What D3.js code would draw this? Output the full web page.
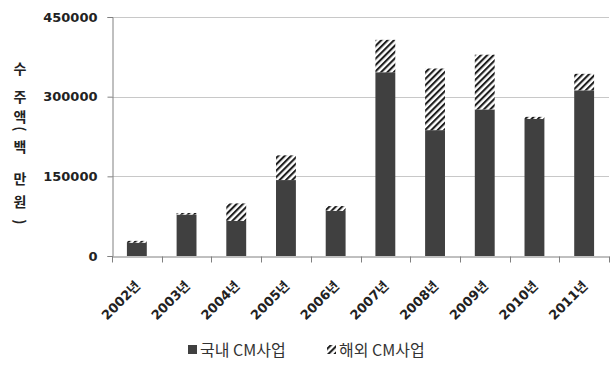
<!DOCTYPE html>
<html>
<head>
<meta charset="utf-8">
<script src="https://cdn.jsdelivr.net/npm/d3@7"></script>
<style>
  html, body { margin: 0; padding: 0; background: #fff; }
  svg { display: block; }
</style>
</head>
<body>
<svg id="chart" width="616" height="368"></svg>
<script>
const categories = ["2002년","2003년","2004년","2005년","2006년","2007년","2008년","2009년","2010년","2011년"];
const domestic = [25000, 78000, 66000, 143000, 85000, 346000, 237000, 276000, 258000, 312000];
const overseas = [3500, 3000, 33000, 46500, 9000, 61000, 116000, 103000, 4000, 31000];
const yTicks = [0, 150000, 300000, 450000];
const seriesNames = ["국내 CM사업", "해외 CM사업"];
const yTitleChars = ["수","주","액","(","백","만","원",")"];

const svg = d3.select("#chart");
const numFont = "'DejaVu Sans', 'Noto Sans CJK KR', sans-serif";
const krFont = "'Noto Sans CJK KR', 'Noto Sans', sans-serif";

const defs = svg.append("defs");
const pat = defs.append("pattern")
  .attr("id", "hatch")
  .attr("patternUnits", "userSpaceOnUse")
  .attr("width", 4.5).attr("height", 4.5)
  .attr("patternTransform", "rotate(45)");
pat.append("rect").attr("width", 4.5).attr("height", 4.5).attr("fill", "#fff");
pat.append("line").attr("x1", 1).attr("y1", 0).attr("x2", 1).attr("y2", 4.5)
  .attr("stroke", "#1e1e1e").attr("stroke-width", 2.2);

const x = d3.scaleBand().domain(categories).range([112, 609]).paddingInner(0.6).paddingOuter(0.3);
const y = d3.scaleLinear().domain([0, 450000]).range([256, 17]);

// gridlines
svg.append("g").selectAll("line").data(yTicks.filter(d => d > 0)).join("line")
  .attr("x1", 112).attr("x2", 609)
  .attr("y1", d => Math.round(y(d)) + 0.5).attr("y2", d => Math.round(y(d)) + 0.5)
  .attr("stroke", "#c8c8c8").attr("stroke-width", 1);

// bars
const stacked = categories.map((c, i) => ({ c, d: domestic[i], o: overseas[i] }));
svg.append("g").selectAll("rect").data(stacked).join("rect")
  .attr("x", d => x(d.c)).attr("width", x.bandwidth())
  .attr("y", d => y(d.d)).attr("height", d => y(0) - y(d.d))
  .attr("fill", "#404040");
svg.append("g").selectAll("rect").data(stacked).join("rect")
  .attr("x", d => x(d.c)).attr("width", x.bandwidth())
  .attr("y", d => y(d.d + d.o)).attr("height", d => y(d.d) - y(d.d + d.o))
  .attr("fill", "url(#hatch)");

// y axis
const yAxis = svg.append("g").attr("transform", "translate(112.5,0)")
  .call(d3.axisLeft(y).tickValues(yTicks).tickSize(5).tickPadding(10).tickFormat(d3.format("d")));
yAxis.select(".domain").attr("stroke", "#808080");
yAxis.selectAll(".tick line").attr("stroke", "#808080");
yAxis.selectAll(".tick text").attr("font-family", numFont).attr("font-size", 13)
  .attr("font-weight", "bold").attr("fill", "#222");

// x axis
const xAxis = svg.append("g").attr("transform", "translate(0,256.5)")
  .call(d3.axisBottom(x).tickSize(0).tickSizeOuter(0));
xAxis.select(".domain").attr("stroke", "#808080");
const bounds = d3.range(categories.length + 1).map(i => 112 + i * x.step());
xAxis.selectAll(".bound").data(bounds).join("line").attr("class", "bound")
  .attr("x1", d => Math.round(d) + 0.5).attr("x2", d => Math.round(d) + 0.5)
  .attr("y1", 0).attr("y2", 6).attr("stroke", "#808080");
xAxis.selectAll(".tick text")
  .attr("font-family", numFont).attr("font-size", 13).attr("font-weight", "bold").attr("fill", "#222")
  .attr("text-anchor", "end")
  .attr("transform", "translate(1,27) rotate(-45)")
  .attr("dy", "0.35em").attr("y", 0).attr("x", 0);

// y axis title (stacked characters)
const titleY = [69, 97, 117, 129, 147, 179, 202, 222];
const tg = svg.append("g");
yTitleChars.forEach((ch, i) => {
  const t = tg.append("text")
    .attr("font-family", krFont).attr("font-size", 14).attr("font-weight", "bold")
    .attr("fill", "#222").attr("text-anchor", "middle").attr("dy", "0.35em")
    .text(ch);
  if (ch === "(" || ch === ")") t.attr("transform", `translate(20,${titleY[i]}) rotate(90)`);
  else t.attr("transform", `translate(20,${titleY[i]})`);
});

// legend
const lg = svg.append("g");
lg.append("rect").attr("x", 188).attr("y", 345).attr("width", 9).attr("height", 9).attr("fill", "#404040");
lg.append("text").attr("x", 200).attr("y", 350).attr("dy", "0.35em")
  .attr("font-family", krFont).attr("font-size", 16).attr("fill", "#333").text(seriesNames[0]);
lg.append("rect").attr("x", 327).attr("y", 345).attr("width", 9).attr("height", 9).attr("fill", "url(#hatch)");
lg.append("text").attr("x", 339).attr("y", 350).attr("dy", "0.35em")
  .attr("font-family", krFont).attr("font-size", 16).attr("fill", "#333").text(seriesNames[1]);
</script>
</body>
</html>
